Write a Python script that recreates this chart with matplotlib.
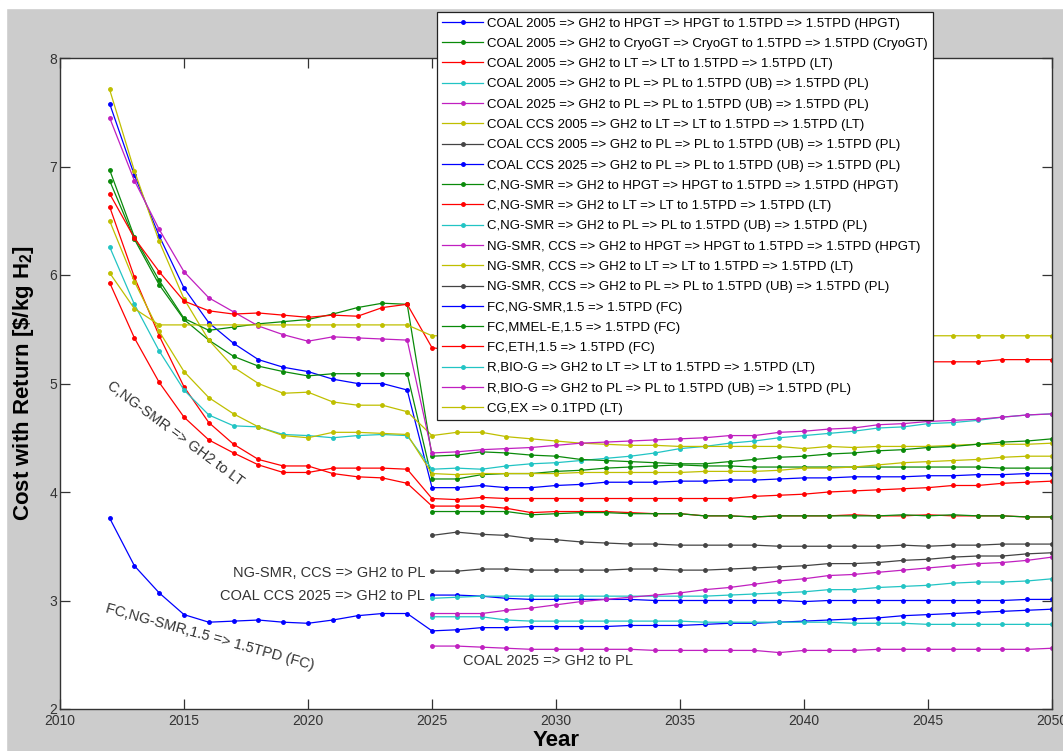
import matplotlib.pyplot as plt
from matplotlib.patches import Rectangle

plt.rcParams['font.family'] = ['Liberation Sans', 'DejaVu Sans']
plt.rcParams['mathtext.fontset'] = 'custom'
plt.rcParams['mathtext.rm'] = 'Liberation Sans:bold'
plt.rcParams['mathtext.default'] = 'rm'

# years: early period (only some pathways) and 2025-2050 (all pathways)
years_left = list(range(2012, 2025))
years_right = list(range(2025, 2051))

labels = [
    'COAL 2005 => GH2 to HPGT => HPGT to 1.5TPD => 1.5TPD (HPGT)',
    'COAL 2005 => GH2 to CryoGT => CryoGT to 1.5TPD => 1.5TPD (CryoGT)',
    'COAL 2005 => GH2 to LT => LT to 1.5TPD => 1.5TPD (LT)',
    'COAL 2005 => GH2 to PL => PL to 1.5TPD (UB) => 1.5TPD (PL)',
    'COAL 2025 => GH2 to PL => PL to 1.5TPD (UB) => 1.5TPD (PL)',
    'COAL CCS 2005 => GH2 to LT => LT to 1.5TPD => 1.5TPD (LT)',
    'COAL CCS 2005 => GH2 to PL => PL to 1.5TPD (UB) => 1.5TPD (PL)',
    'COAL CCS 2025 => GH2 to PL => PL to 1.5TPD (UB) => 1.5TPD (PL)',
    'C,NG-SMR => GH2 to HPGT => HPGT to 1.5TPD => 1.5TPD (HPGT)',
    'C,NG-SMR => GH2 to LT => LT to 1.5TPD => 1.5TPD (LT)',
    'C,NG-SMR => GH2 to PL => PL to 1.5TPD (UB) => 1.5TPD (PL)',
    'NG-SMR, CCS => GH2 to HPGT => HPGT to 1.5TPD => 1.5TPD (HPGT)',
    'NG-SMR, CCS => GH2 to LT => LT to 1.5TPD => 1.5TPD (LT)',
    'NG-SMR, CCS => GH2 to PL => PL to 1.5TPD (UB) => 1.5TPD (PL)',
    'FC,NG-SMR,1.5 => 1.5TPD (FC)',
    'FC,MMEL-E,1.5 => 1.5TPD (FC)',
    'FC,ETH,1.5 => 1.5TPD (FC)',
    'R,BIO-G => GH2 to LT => LT to 1.5TPD => 1.5TPD (LT)',
    'R,BIO-G => GH2 to PL => PL to 1.5TPD (UB) => 1.5TPD (PL)',
    'CG,EX => 0.1TPD (LT)',
]

# 2012-2024 values ($/kg H2)
coal05_hpgt_l = [7.58, 6.92, 6.36, 5.88, 5.56, 5.37, 5.22, 5.15, 5.11, 5.04, 5.00, 5.00, 4.94]
coal05_cryo_l = [6.87, 6.33, 5.91, 5.59, 5.40, 5.25, 5.16, 5.11, 5.07, 5.09, 5.09, 5.09, 5.09]
coal05_lt_l = [6.63, 5.98, 5.44, 4.97, 4.64, 4.44, 4.30, 4.24, 4.24, 4.17, 4.14, 4.13, 4.08]
coal05_pl_l = [6.26, 5.73, 5.30, 4.94, 4.71, 4.61, 4.60, 4.53, 4.52, 4.50, 4.52, 4.53, 4.52]
ccs05_lt_l = [7.71, 6.96, 6.31, 5.78, 5.40, 5.15, 5.00, 4.91, 4.92, 4.83, 4.80, 4.80, 4.74]
cng_hpgt_l = [6.97, 6.35, 5.95, 5.60, 5.49, 5.52, 5.55, 5.57, 5.59, 5.64, 5.70, 5.74, 5.73]
cng_lt_l = [5.93, 5.42, 5.01, 4.69, 4.48, 4.36, 4.25, 4.18, 4.18, 4.22, 4.22, 4.22, 4.21]
ngccs_hpgt_l = [7.45, 6.87, 6.42, 6.03, 5.79, 5.66, 5.53, 5.45, 5.39, 5.43, 5.42, 5.41, 5.40]
ngccs_lt_l = [6.50, 5.94, 5.48, 5.11, 4.87, 4.72, 4.60, 4.52, 4.50, 4.55, 4.55, 4.54, 4.53]
fc_ngsmr_l = [3.76, 3.32, 3.07, 2.87, 2.80, 2.81, 2.82, 2.80, 2.79, 2.82, 2.86, 2.88, 2.88]
fc_eth_l = [6.75, 6.34, 6.03, 5.76, 5.67, 5.64, 5.65, 5.63, 5.61, 5.63, 5.62, 5.70, 5.73]
cgex_l = [6.02, 5.69, 5.54, 5.54, 5.54, 5.54, 5.54, 5.54, 5.54, 5.54, 5.54, 5.54, 5.54]

# 2025-2050 values ($/kg H2)
coal05_hpgt_r = [4.04, 4.04, 4.06, 4.04, 4.04, 4.06, 4.07, 4.09, 4.09, 4.09, 4.10, 4.10, 4.11,
                 4.11, 4.12, 4.13, 4.13, 4.14, 4.14, 4.14, 4.15, 4.15, 4.16, 4.16, 4.17, 4.17]
coal05_cryo_r = [4.12, 4.12, 4.16, 4.17, 4.17, 4.19, 4.20, 4.22, 4.23, 4.24, 4.25, 4.24, 4.24,
                 4.23, 4.23, 4.23, 4.23, 4.23, 4.23, 4.23, 4.23, 4.23, 4.23, 4.22, 4.22, 4.22]
coal05_lt_r = [3.87, 3.87, 3.87, 3.85, 3.81, 3.82, 3.82, 3.82, 3.81, 3.80, 3.80, 3.78, 3.78,
               3.77, 3.78, 3.78, 3.78, 3.79, 3.78, 3.78, 3.79, 3.78, 3.78, 3.78, 3.77, 3.77]
coal05_pl_r = [4.21, 4.22, 4.21, 4.24, 4.26, 4.27, 4.29, 4.31, 4.33, 4.36, 4.40, 4.42, 4.45,
               4.47, 4.50, 4.52, 4.54, 4.56, 4.59, 4.60, 4.63, 4.64, 4.66, 4.69, 4.71, 4.72]
coal25_pl_r = [2.58, 2.58, 2.57, 2.56, 2.55, 2.55, 2.55, 2.55, 2.55, 2.54, 2.54, 2.54, 2.54,
               2.54, 2.52, 2.54, 2.54, 2.54, 2.55, 2.55, 2.55, 2.55, 2.55, 2.55, 2.55, 2.56]
ccs05_lt_r = [4.52, 4.55, 4.55, 4.51, 4.49, 4.47, 4.45, 4.44, 4.43, 4.43, 4.42, 4.42, 4.42,
              4.42, 4.42, 4.40, 4.42, 4.41, 4.42, 4.42, 4.42, 4.43, 4.44, 4.44, 4.44, 4.45]
ccs05_pl_r = [3.60, 3.63, 3.61, 3.60, 3.57, 3.56, 3.54, 3.53, 3.52, 3.52, 3.51, 3.51, 3.51,
              3.51, 3.50, 3.50, 3.50, 3.50, 3.50, 3.51, 3.50, 3.51, 3.51, 3.52, 3.52, 3.52]
ccs25_pl_r = [3.05, 3.05, 3.04, 3.02, 3.01, 3.01, 3.01, 3.01, 3.01, 3.00, 3.00, 3.00, 3.00,
              3.00, 3.00, 2.99, 3.00, 3.00, 3.00, 3.00, 3.00, 3.00, 3.00, 3.00, 3.01, 3.01]
cng_hpgt_r = [4.33, 4.34, 4.37, 4.36, 4.34, 4.33, 4.30, 4.29, 4.28, 4.27, 4.26, 4.26, 4.28,
              4.30, 4.32, 4.33, 4.35, 4.36, 4.38, 4.39, 4.41, 4.42, 4.44, 4.46, 4.47, 4.49]
cng_lt_r = [3.94, 3.93, 3.95, 3.94, 3.94, 3.94, 3.94, 3.94, 3.94, 3.94, 3.94, 3.94, 3.94,
            3.96, 3.97, 3.98, 4.00, 4.01, 4.02, 4.03, 4.04, 4.06, 4.06, 4.08, 4.09, 4.10]
cng_pl_r = [3.02, 3.03, 3.04, 3.04, 3.04, 3.04, 3.04, 3.04, 3.04, 3.04, 3.04, 3.04, 3.05,
            3.06, 3.07, 3.08, 3.10, 3.10, 3.12, 3.13, 3.14, 3.16, 3.17, 3.17, 3.18, 3.20]
ngccs_hpgt_r = [4.36, 4.37, 4.39, 4.40, 4.41, 4.43, 4.45, 4.46, 4.47, 4.48, 4.49, 4.50, 4.52,
                4.52, 4.55, 4.56, 4.58, 4.59, 4.62, 4.63, 4.65, 4.66, 4.67, 4.69, 4.71, 4.72]
ngccs_lt_r = [4.17, 4.16, 4.17, 4.17, 4.17, 4.17, 4.18, 4.18, 4.18, 4.18, 4.18, 4.19, 4.19,
              4.19, 4.20, 4.22, 4.22, 4.23, 4.25, 4.27, 4.28, 4.29, 4.30, 4.32, 4.33, 4.33]
ngccs_pl_r = [3.27, 3.27, 3.29, 3.29, 3.28, 3.28, 3.28, 3.28, 3.29, 3.29, 3.28, 3.28, 3.29,
              3.30, 3.31, 3.32, 3.34, 3.34, 3.35, 3.37, 3.38, 3.40, 3.41, 3.41, 3.43, 3.44]
fc_ngsmr_r = [2.72, 2.73, 2.75, 2.75, 2.76, 2.76, 2.76, 2.76, 2.77, 2.77, 2.77, 2.78, 2.79,
              2.79, 2.80, 2.81, 2.82, 2.83, 2.84, 2.86, 2.87, 2.88, 2.89, 2.90, 2.91, 2.92]
fc_mmel_r = [3.82, 3.82, 3.82, 3.82, 3.79, 3.80, 3.81, 3.81, 3.80, 3.80, 3.80, 3.78, 3.78,
             3.77, 3.78, 3.78, 3.78, 3.78, 3.78, 3.79, 3.78, 3.79, 3.78, 3.78, 3.77, 3.77]
fc_eth_r = [5.33, 5.30, 5.28, 5.26, 5.25, 5.24, 5.23, 5.22, 5.22, 5.21, 5.21, 5.21, 5.21,
            5.21, 5.21, 5.20, 5.20, 5.20, 5.20, 5.20, 5.20, 5.20, 5.20, 5.22, 5.22, 5.22]
rbio_lt_r = [2.85, 2.85, 2.85, 2.82, 2.81, 2.81, 2.81, 2.81, 2.81, 2.81, 2.81, 2.80, 2.80,
             2.80, 2.80, 2.80, 2.80, 2.79, 2.79, 2.79, 2.78, 2.78, 2.78, 2.78, 2.78, 2.78]
rbio_pl_r = [2.88, 2.88, 2.88, 2.91, 2.93, 2.96, 2.99, 3.01, 3.03, 3.05, 3.07, 3.10, 3.12,
             3.15, 3.18, 3.20, 3.23, 3.24, 3.26, 3.28, 3.30, 3.32, 3.34, 3.35, 3.37, 3.40]
cgex_r = [5.44, 5.44, 5.44, 5.44, 5.44, 5.44, 5.44, 5.44, 5.44, 5.44, 5.44, 5.44, 5.44,
          5.44, 5.44, 5.44, 5.44, 5.44, 5.44, 5.44, 5.44, 5.44, 5.44, 5.44, 5.44, 5.44]

lefts = [coal05_hpgt_l, coal05_cryo_l, coal05_lt_l, coal05_pl_l, None, ccs05_lt_l, None,
         None, cng_hpgt_l, cng_lt_l, None, ngccs_hpgt_l, ngccs_lt_l, None, fc_ngsmr_l,
         None, fc_eth_l, None, None, cgex_l]
rights = [coal05_hpgt_r, coal05_cryo_r, coal05_lt_r, coal05_pl_r, coal25_pl_r, ccs05_lt_r,
          ccs05_pl_r, ccs25_pl_r, cng_hpgt_r, cng_lt_r, cng_pl_r, ngccs_hpgt_r, ngccs_lt_r,
          ngccs_pl_r, fc_ngsmr_r, fc_mmel_r, fc_eth_r, rbio_lt_r, rbio_pl_r, cgex_r]

# matlab style colour order b g r c m y k
colors = ['#0000ff', '#0a8a0a', '#ff0000', '#22c4c4', '#c020c0', '#bfbf00', '#444444']

fig = plt.figure(figsize=(10.63, 7.51), dpi=100, facecolor='#cccccc')
fig.patches.append(Rectangle((0, 1 - 8 / 751), 1, 8 / 751, transform=fig.transFigure,
                             color='white', zorder=0))
fig.patches.append(Rectangle((0, 0), 6 / 1063, 1, transform=fig.transFigure,
                             color='white', zorder=0))
ax = fig.add_axes([60 / 1063, 42 / 751, 992 / 1063, 651 / 751])
ax.set_facecolor('white')

for i in range(len(labels)):
    if lefts[i] is not None:
        x = years_left + years_right
        y = lefts[i] + rights[i]
    else:
        x = years_right
        y = rights[i]
    ax.plot(x, y, '.-', color=colors[i % 7], lw=0.9, ms=5, label=labels[i])

ax.set_xlim(2010, 2050)
ax.set_ylim(2, 8)
ax.set_xticks(range(2010, 2051, 5))
ax.set_yticks(range(2, 9))
ax.tick_params(direction='in', length=7, width=0.9, top=True, right=True,
               labelsize=10, colors='#333333')
ax.tick_params(axis='y', pad=2)
for s in ax.spines.values():
    s.set_color('#333333')
    s.set_linewidth(1.0)

ax.set_xlabel('Year', fontsize=16, fontweight='bold')
ax.xaxis.set_label_coords(0.5, -0.033)
ax.set_ylabel(r'Cost with Return [\$/kg H$_2$]', fontsize=16, fontweight='bold')
ax.yaxis.set_label_coords(-0.024, 0.5)

# labels written on the chart
txt = dict(fontsize=10.5, color='#333333')
ax.text(2014.64, 4.54, 'C,NG-SMR => GH2 to LT', rotation=-36.5,
        rotation_mode='anchor', ha='center', va='center', **txt)
ax.text(2016.05, 2.66, 'FC,NG-SMR,1.5 => 1.5TPD (FC)', rotation=-15.5,
        rotation_mode='anchor', ha='center', va='center', **txt)
ax.text(2024.72, 3.255, 'NG-SMR, CCS => GH2 to PL', ha='right', va='center', **txt)
ax.text(2024.72, 3.037, 'COAL CCS 2025 => GH2 to PL', ha='right', va='center', **txt)
ax.text(2026.25, 2.445, 'COAL 2025 => GH2 to PL', ha='left', va='center', **txt)

leg = ax.legend(loc='upper left', bbox_to_anchor=((437 - 60) / 992, (709 - 12) / 651),
                borderaxespad=0, fontsize=9.5, labelspacing=0.61, handlelength=3.1,
                handletextpad=0.3, borderpad=0.4, numpoints=1, fancybox=False,
                framealpha=1, edgecolor='#222222')
leg.get_frame().set_linewidth(0.9)

fig.savefig('out.png', dpi=100, facecolor=fig.get_facecolor())
